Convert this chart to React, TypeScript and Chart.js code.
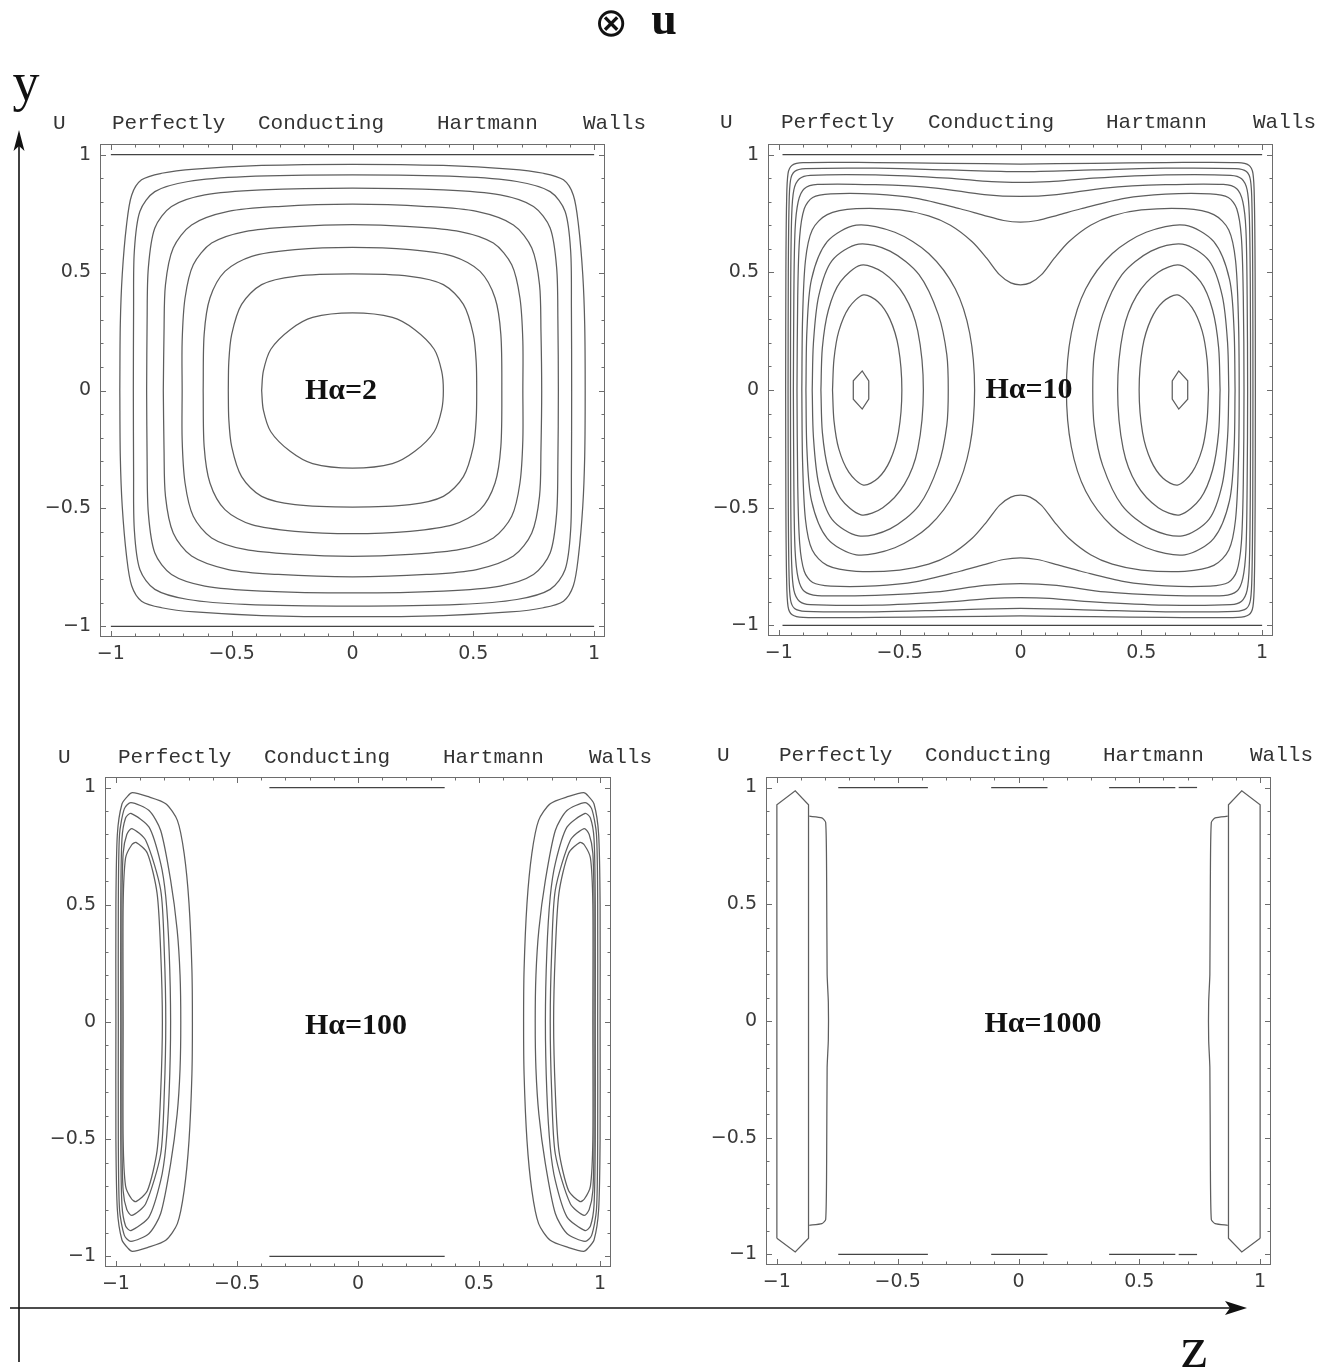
import React, { useEffect, useRef } from "react";
import { Chart, registerables } from "chart.js";

Chart.register(...registerables);

type P = [number, number];

// ---------- axis data ----------
const tickValues = [-1, -0.5, 0, 0.5, 1];
const tickLabels = ["\u22121", "\u22120.5", "0", "0.5", "1"];
const minorTickValues = [-1, -0.9, -0.8, -0.7, -0.6, -0.5, -0.4, -0.3, -0.2, -0.1, 0, 0.1, 0.2, 0.3, 0.4, 0.5, 0.6, 0.7, 0.8, 0.9, 1];

// ---------- text ----------
const titleWords = ["U", "Perfectly", "Conducting", "Hartmann", "Walls"];
const haLabels = ["H\u03b1=2", "H\u03b1=10", "H\u03b1=100", "H\u03b1=1000"];

// ---------- Ha = 2 : contours (top-left quarter, mirrored by symmetry) ----------
const ha2Quarters: P[][] = [
  [[-0.376, 0], [-0.369, 0.082], [-0.338, 0.175], [-0.258, 0.258], [-0.165, 0.31], [0, 0.329]],
  [[-0.514, 0], [-0.512, 0.12], [-0.5, 0.238], [-0.459, 0.365], [-0.376, 0.449], [-0.238, 0.484], [0, 0.494]],
  [[-0.618, 0], [-0.614, 0.237], [-0.59, 0.392], [-0.528, 0.505], [-0.417, 0.569], [-0.238, 0.597], [0, 0.607]],
  [[-0.705, 0], [-0.705, 0.209], [-0.693, 0.392], [-0.659, 0.533], [-0.583, 0.625], [-0.445, 0.674], [-0.238, 0.695], [0, 0.703]],
  [[-0.783, 0], [-0.78, 0.25], [-0.774, 0.449], [-0.742, 0.604], [-0.666, 0.702], [-0.514, 0.759], [-0.307, 0.78], [0, 0.79]],
  [[-0.852, 0], [-0.85, 0.3], [-0.845, 0.519], [-0.818, 0.689], [-0.749, 0.78], [-0.611, 0.829], [-0.376, 0.85], [0, 0.858]],
  [[-0.907, 0], [-0.906, 0.35], [-0.903, 0.589], [-0.88, 0.759], [-0.818, 0.843], [-0.68, 0.886], [-0.445, 0.907], [0, 0.914]],
  [[-0.963, 0], [-0.961, 0.279], [-0.953, 0.491], [-0.935, 0.703], [-0.914, 0.828], [-0.873, 0.893], [-0.79, 0.921], [-0.652, 0.939], [-0.376, 0.954], [0, 0.959]],
];
const ha2Walls: P[][] = [
  [[-1, 1], [1, 1]],
  [[-1, -1], [1, -1]],
];

// ---------- Ha = 10 ----------
// contours enclosing both vortices (top-left quarter)
const ha10OuterQuarters: P[][] = [
  [[-0.972, 0], [-0.971, 0.5], [-0.968, 0.8], [-0.962, 0.92], [-0.945, 0.955], [-0.9, 0.966], [-0.6, 0.966], [-0.3, 0.963], [0, 0.96]],
  [[-0.962, 0], [-0.961, 0.5], [-0.958, 0.78], [-0.952, 0.89], [-0.935, 0.928], [-0.89, 0.94], [-0.6, 0.942], [-0.3, 0.935], [0, 0.928]],
  [[-0.952, 0], [-0.951, 0.45], [-0.947, 0.74], [-0.938, 0.85], [-0.915, 0.897], [-0.87, 0.912], [-0.6, 0.914], [-0.3, 0.9], [-0.12, 0.885], [0, 0.882]],
  [[-0.94, 0], [-0.938, 0.4], [-0.933, 0.68], [-0.92, 0.8], [-0.895, 0.855], [-0.84, 0.873], [-0.6, 0.872], [-0.35, 0.858], [-0.15, 0.83], [0, 0.822]],
  [[-0.925, 0], [-0.922, 0.4], [-0.914, 0.65], [-0.895, 0.77], [-0.86, 0.818], [-0.785, 0.833], [-0.6, 0.832], [-0.43, 0.814], [-0.25, 0.77], [-0.155, 0.743], [-0.07, 0.72], [0, 0.713]],
  [[-0.905, 0], [-0.902, 0.3], [-0.89, 0.55], [-0.862, 0.68], [-0.8, 0.745], [-0.68, 0.77], [-0.5, 0.765], [-0.38, 0.74], [-0.29, 0.7], [-0.2, 0.63], [-0.14, 0.56], [-0.087, 0.49], [-0.04, 0.455], [0, 0.447]],
];
// rings round the left vortex (upper half, left-middle -> right-middle)
const ha10RingHalves: P[][] = [
  [[-0.778, 0], [-0.772, 0.13], [-0.752, 0.25], [-0.71, 0.35], [-0.65, 0.404], [-0.59, 0.375], [-0.54, 0.3], [-0.505, 0.18], [-0.491, 0]],
  [[-0.826, 0], [-0.82, 0.18], [-0.795, 0.34], [-0.745, 0.46], [-0.66, 0.53], [-0.57, 0.5], [-0.48, 0.4], [-0.425, 0.25], [-0.402, 0]],
  [[-0.862, 0], [-0.857, 0.2], [-0.835, 0.4], [-0.78, 0.55], [-0.67, 0.62], [-0.54, 0.59], [-0.42, 0.49], [-0.34, 0.32], [-0.305, 0.15], [-0.299, 0]],
  [[-0.888, 0], [-0.884, 0.25], [-0.865, 0.47], [-0.8, 0.63], [-0.68, 0.7], [-0.52, 0.67], [-0.38, 0.58], [-0.27, 0.43], [-0.21, 0.24], [-0.19, 0]],
];
const ha10Core: P[] = [[-0.692, 0], [-0.692, 0.039], [-0.655, 0.081], [-0.628, 0.039], [-0.628, 0]];
const ha10Walls: P[][] = [
  [[-0.985, 1], [1, 1]],
  [[-0.985, -1], [1, -1]],
];

// ---------- Ha = 100 : rings round the left side layer (upper half) ----------
const ha100RingHalves: P[][] = [
  [[-1.0, 0], [-1.0, 0.5], [-0.994, 0.8], [-0.975, 0.93], [-0.95, 0.965], [-0.932, 0.978], [-0.87, 0.962], [-0.794, 0.931], [-0.746, 0.86], [-0.718, 0.718], [-0.698, 0.506], [-0.686, 0.223], [-0.684, 0]],
  [[-0.99, 0], [-0.99, 0.5], [-0.985, 0.8], [-0.965, 0.91], [-0.938, 0.936], [-0.863, 0.902], [-0.815, 0.817], [-0.774, 0.605], [-0.747, 0.393], [-0.735, 0.2], [-0.732, 0]],
  [[-0.98, 0], [-0.98, 0.5], [-0.975, 0.78], [-0.96, 0.87], [-0.938, 0.89], [-0.863, 0.831], [-0.815, 0.677], [-0.794, 0.534], [-0.78, 0.3], [-0.774, 0]],
  [[-0.975, 0], [-0.975, 0.5], [-0.97, 0.72], [-0.955, 0.8], [-0.934, 0.825], [-0.877, 0.775], [-0.815, 0.563], [-0.8, 0.3], [-0.794, 0]],
  [[-0.97, 0], [-0.97, 0.5], [-0.96, 0.7], [-0.935, 0.755], [-0.917, 0.766], [-0.87, 0.72], [-0.83, 0.55], [-0.815, 0.3], [-0.808, 0]],
];
const ha100Walls: P[][] = [
  [[-0.366, 1], [0.358, 1]],
  [[-0.366, -1], [0.358, -1]],
];

// ---------- Ha = 1000 ----------
const ha1000Outer: P[] = [[-1.0, -0.93], [-1.0, 0.926], [-0.924, 0.986], [-0.869, 0.926], [-0.869, -0.93], [-0.924, -0.989], [-1.0, -0.93]];
const ha1000Inner: P[] = [[-0.866, 0.877], [-0.814, 0.87], [-0.798, 0.85], [-0.794, 0.6], [-0.792, 0.2], [-0.787, 0.08], [-0.787, -0.08], [-0.792, -0.2], [-0.794, -0.6], [-0.798, -0.85], [-0.814, -0.868], [-0.866, -0.875]];
const ha1000WallSegments: P[] = [[-0.746, -0.375], [-0.113, 0.12], [0.375, 0.649], [0.663, 0.739]];

// ---------- helpers (symmetry of the read values) ----------
const mirrorZ = (pts: P[]): P[] => pts.map(([z, y]) => [-z, y] as P);
const fromQuarter = (q: P[]): P[] => {
  const upper: P[] = [...q, ...q.slice(0, -1).reverse().map(([z, y]) => [-z, y] as P)];
  return [...upper, ...upper.slice(0, -1).reverse().map(([z, y]) => [z, -y] as P)];
};
const fromUpperHalf = (u: P[]): P[] => [...u, ...u.slice(0, -1).reverse().map(([z, y]) => [z, -y] as P)];

const LINE = "#5e5e5e";
const ds = (pts: P[], tension = 0.3, color = LINE, width = 1.25) => ({
  data: pts.map(([x, y]) => ({ x, y })),
  showLine: true,
  pointRadius: 0,
  borderColor: color,
  borderWidth: width,
  tension,
  fill: false,
});

const panel1Sets = [
  ...ha2Quarters.map((q) => ds(fromQuarter(q))),
  ...ha2Walls.map((w) => ds(w, 0, "#444")),
];
const panel2Sets = [
  ...ha10OuterQuarters.map((q) => ds(fromQuarter(q))),
  ...ha10RingHalves.map((h) => ds(fromUpperHalf(h))),
  ...ha10RingHalves.map((h) => ds(mirrorZ(fromUpperHalf(h)))),
  ds(fromUpperHalf(ha10Core), 0),
  ds(mirrorZ(fromUpperHalf(ha10Core)), 0),
  ...ha10Walls.map((w) => ds(w, 0, "#444")),
];
const panel3Sets = [
  ...ha100RingHalves.map((h) => ds(fromUpperHalf(h), 0.25)),
  ...ha100RingHalves.map((h) => ds(mirrorZ(fromUpperHalf(h)), 0.25)),
  ...ha100Walls.map((w) => ds(w, 0, "#444")),
];
const panel4Sets = [
  ds(ha1000Outer, 0),
  ds(mirrorZ(ha1000Outer), 0),
  ds(ha1000Inner, 0.2),
  ds(mirrorZ(ha1000Inner), 0.2),
  ...ha1000WallSegments.map(([a, b]) => ds([[a, 1], [b, 1]], 0, "#444")),
  ...ha1000WallSegments.map(([a, b]) => ds([[a, -1], [b, -1]], 0, "#444")),
];

const framePlugin = {
  id: "frameTicks",
  afterDraw(chart: any) {
    const { ctx, chartArea: a, scales } = chart;
    ctx.save();
    ctx.strokeStyle = "#6d6d6d";
    ctx.lineWidth = 1;
    ctx.strokeRect(a.left + 0.5, a.top + 0.5, a.width - 1, a.height - 1);
    ctx.beginPath();
    minorTickValues.forEach((v) => {
      const len = tickValues.includes(v) ? 6 : 3.5;
      const x = Math.round(scales.x.getPixelForValue(v)) + 0.5;
      ctx.moveTo(x, a.bottom);
      ctx.lineTo(x, a.bottom - len);
      ctx.moveTo(x, a.top);
      ctx.lineTo(x, a.top + len);
      const y = Math.round(scales.y.getPixelForValue(v)) + 0.5;
      ctx.moveTo(a.left, y);
      ctx.lineTo(a.left + len, y);
      ctx.moveTo(a.right, y);
      ctx.lineTo(a.right - len, y);
    });
    ctx.stroke();
    ctx.restore();
  },
};

const tickFont = { family: "'DejaVu Sans', sans-serif", size: 19 };
const labelFor = (v: any) => {
  const i = tickValues.indexOf(Number(v));
  return i >= 0 ? tickLabels[i] : "";
};

type PanelProps = { left: number; top: number; fw: number; fh: number; sets: any[] };

function Panel({ left, top, fw, fh, sets }: PanelProps) {
  const ref = useRef<HTMLCanvasElement>(null);
  const W = fw + 80;
  const H = fh + 50;
  useEffect(() => {
    const chart = new Chart(ref.current as HTMLCanvasElement, {
      type: "scatter",
      data: { datasets: sets },
      options: {
        animation: false,
        responsive: false,
        maintainAspectRatio: false,
        events: [],
        layout: { padding: { top: 10, right: 10, left: 0, bottom: 0 } },
        plugins: { legend: { display: false }, tooltip: { enabled: false } },
        scales: {
          x: {
            type: "linear",
            min: -1.045,
            max: 1.045,
            grid: { display: false, drawTicks: false },
            border: { display: false },
            afterBuildTicks: (s: any) => {
              s.ticks = tickValues.map((value) => ({ value }));
            },
            afterFit: (s: any) => {
              s.height = 40;
              s.paddingLeft = 0;
              s.paddingRight = 0;
            },
            ticks: { padding: 6, font: tickFont, color: "#3a3a3a", autoSkip: false, maxRotation: 0, callback: labelFor },
          },
          y: {
            type: "linear",
            min: -1.045,
            max: 1.045,
            grid: { display: false, drawTicks: false },
            border: { display: false },
            afterBuildTicks: (s: any) => {
              s.ticks = tickValues.map((value) => ({ value }));
            },
            afterFit: (s: any) => {
              s.width = 70;
              s.paddingTop = 0;
              s.paddingBottom = 0;
            },
            ticks: { padding: 9, font: tickFont, color: "#3a3a3a", autoSkip: false, callback: labelFor },
          },
        },
      } as any,
      plugins: [framePlugin],
    });
    return () => chart.destroy();
  }, []);
  return (
    <canvas
      ref={ref}
      width={W}
      height={H}
      style={{ position: "absolute", left: left - 70, top: top - 10, width: W, height: H }}
    />
  );
}

const panels = [
  { left: 100, top: 144, fw: 505, fh: 493, sets: panel1Sets },
  { left: 768, top: 144, fw: 505, fh: 492, sets: panel2Sets },
  { left: 105, top: 777, fw: 506, fh: 490, sets: panel3Sets },
  { left: 766, top: 777, fw: 505, fh: 488, sets: panel4Sets },
];

const titleRows = [
  { x: [53, 112, 258, 437, 583], y: 129 },
  { x: [720, 781, 928, 1106, 1253], y: 128 },
  { x: [58, 118, 264, 443, 589], y: 763 },
  { x: [717, 779, 925, 1103, 1250], y: 761 },
];
const haPos = [
  { x: 341, y: 399 },
  { x: 1029, y: 398 },
  { x: 356, y: 1034 },
  { x: 1043, y: 1032 },
];

export default function App() {
  return (
    <div style={{ position: "absolute", left: 0, top: 0, width: 1331, height: 1371, background: "#fff", overflow: "hidden" }}>
      {panels.map((p, i) => (
        <Panel key={i} {...p} />
      ))}
      <svg width={1331} height={1371} style={{ position: "absolute", left: 0, top: 0, pointerEvents: "none" }}>
        {/* axes arrows */}
        <line x1={19} y1={145} x2={19} y2={1362} stroke="#111" strokeWidth={1.6} />
        <polygon points="19,130 13.5,151 19,146 24.5,151" fill="#111" />
        <line x1={10} y1={1308} x2={1232} y2={1308} stroke="#111" strokeWidth={1.6} />
        <polygon points="1247,1308 1225,1301 1230,1308 1225,1315" fill="#111" />
        <text x={26} y={100} fontFamily="'Liberation Serif', serif" fontSize={54} textAnchor="middle" fill="#111">y</text>
        <text x={1194} y={1367} fontFamily="'Liberation Serif', serif" fontSize={60} textAnchor="middle" fill="#111">z</text>
        <text x={611} y={36} fontFamily="'DejaVu Sans', sans-serif" fontSize={40} textAnchor="middle" fill="#111">{"\u2297"}</text>
        <text x={664} y={34} fontFamily="'Liberation Serif', serif" fontSize={46} fontWeight="bold" textAnchor="middle" fill="#111">u</text>
        {titleRows.map((row, r) =>
          titleWords.map((w, i) => (
            <text key={`${r}-${i}`} x={row.x[i]} y={row.y} fontFamily="'Liberation Mono', monospace" fontSize={21} fill="#333">
              {w}
            </text>
          ))
        )}
        {haLabels.map((t, i) => (
          <text key={t} x={haPos[i].x} y={haPos[i].y} fontFamily="'Liberation Serif', serif" fontSize={30} fontWeight="bold" textAnchor="middle" fill="#111">
            {t}
          </text>
        ))}
      </svg>
    </div>
  );
}
